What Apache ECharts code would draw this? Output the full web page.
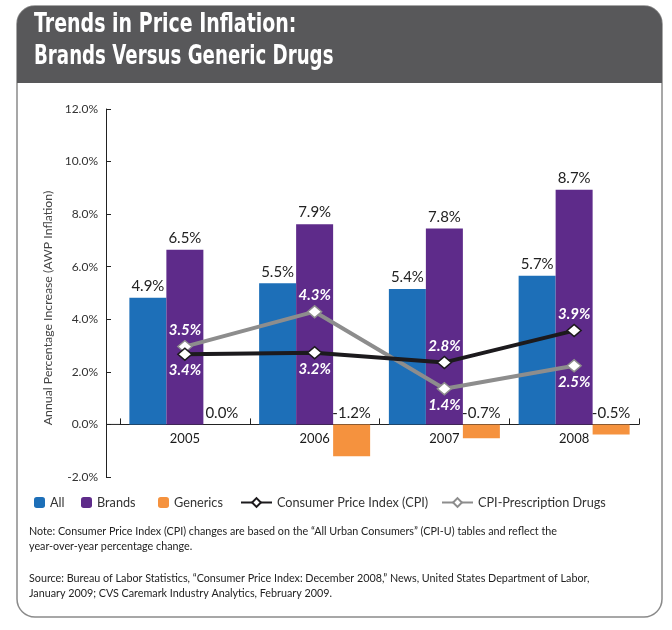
<!DOCTYPE html>
<html>
<head>
<meta charset="utf-8">
<script src="https://cdn.jsdelivr.net/npm/echarts@6/dist/echarts.min.js"></script>
<style>
  html, body { margin: 0; padding: 0; background: #fff; }
  #chart { width: 672px; height: 630px; }
</style>
</head>
<body>
<div id="chart"></div>
<script>
// categories
const years = ['2005', '2006', '2007', '2008'];

// bar heights as drawn, and the values printed above them
const allDrawn = [4.82, 5.37, 5.15, 5.66];
const allPrinted = [4.9, 5.5, 5.4, 5.7];
const brandsDrawn = [6.65, 7.62, 7.45, 8.93];
const brandsPrinted = [6.5, 7.9, 7.8, 8.7];
const genericsDrawn = [0, -1.21, -0.53, -0.38];
const genericsPrinted = [0.0, -1.2, -0.7, -0.5];

// line points as drawn, and the values printed next to them
const cpiDrawn = [2.67, 2.73, 2.36, 3.57];
const cpiPrinted = [3.4, 3.2, 2.8, 3.9];
const rxDrawn = [2.96, 4.29, 1.36, 2.23];
const rxPrinted = [3.5, 4.3, 1.4, 2.5];

// y axis
const yMin = -2;
const yMax = 12;
const yStep = 2;

const FONT = 'Lato';
const pct = v => v.toFixed(1) + '%';

const GRID_TOP = 109;
const GRID_H = 368;
// move the category axis (line, ticks, labels) up to the zero line
const xOffset = -(0 - yMin) * GRID_H / (yMax - yMin);

const chart = echarts.init(document.getElementById('chart'));

function barLabels(printed) {
  return {
    show: true,
    position: 'top',
    distance: 4,
    color: '#222',
    fontFamily: FONT,
    fontSize: 15,
    formatter: p => pct(printed[p.dataIndex])
  };
}

// higher line of the two gets its label above, lower one below
function lineData(drawn, other, printed) {
  return drawn.map((v, i) => ({
    value: v,
    label: {
      position: v >= other[i] ? 'top' : 'bottom',
      formatter: pct(printed[i])
    }
  }));
}

const lineLabel = {
  show: true,
  color: '#fff',
  fontFamily: FONT,
  fontSize: 15,
  fontStyle: 'italic',
  fontWeight: 'bold',
  distance: 2
};

function legendAt(name, left, w, h) {
  return {
    data: [name],
    left: left, top: 496,
    padding: 0,
    itemWidth: w, itemHeight: h,
    textStyle: { color: '#333', fontSize: 12.7, fontFamily: FONT }
  };
}

const frame = [
  {
    type: 'rect',
    shape: { x: 17, y: 6, width: 645, height: 611, r: 18 },
    style: { fill: '#fff', stroke: '#8a8a8a', lineWidth: 1.5 },
    z: -10
  },
  {
    type: 'rect',
    shape: { x: 17, y: 6, width: 645, height: 77, r: [18, 18, 0, 0] },
    style: { fill: '#58585a' },
    z: -9
  },
  {
    type: 'text',
    x: 34, y: 25, scaleX: 0.73,
    style: {
      text: 'Trends in Price Inflation:',
      fill: '#fff',
      font: 'bold 26px "DejaVu Sans"',
      verticalAlign: 'middle'
    }
  },
  {
    type: 'text',
    x: 34, y: 57, scaleX: 0.7,
    style: {
      text: 'Brands Versus Generic Drugs',
      fill: '#fff',
      font: 'bold 26px "DejaVu Sans"',
      verticalAlign: 'middle'
    }
  },
  {
    type: 'text',
    left: 29, top: 524,
    style: {
      text: 'Note: Consumer Price Index (CPI) changes are based on the \u201cAll Urban Consumers\u201d (CPI-U) tables and reflect the\nyear-over-year percentage change.',
      fill: '#222',
      font: '10.75px Lato',
      lineHeight: 15
    }
  },
  {
    type: 'text',
    left: 29, top: 571,
    style: {
      text: 'Source: Bureau of Labor Statistics, \u201cConsumer Price Index: December 2008,\u201d News, United States Department of Labor,\nJanuary 2009; CVS Caremark Industry Analytics, February 2009.',
      fill: '#222',
      font: '10.75px Lato',
      lineHeight: 15
    }
  }
];

const option = {
  backgroundColor: '#fff',
  animation: false,
  textStyle: { fontFamily: FONT },
  graphic: frame,
  legend: [
    legendAt('All', 34, 11, 11),
    legendAt('Brands', 81, 11, 11),
    legendAt('Generics', 158, 11, 11),
    legendAt('Consumer Price Index (CPI)', 240, 31, 11),
    legendAt('CPI-Prescription Drugs', 441, 31, 11)
  ],
  grid: { left: 120, top: GRID_TOP, width: 519, height: GRID_H },
  xAxis: {
    type: 'category',
    data: years,
    offset: xOffset,
    axisLine: { onZero: false, lineStyle: { color: '#222', width: 1 } },
    axisTick: { show: true, inside: true, length: 6, lineStyle: { color: '#222' } },
    axisLabel: { color: '#1a1a1a', fontSize: 13, margin: 8, fontFamily: FONT }
  },
  yAxis: {
    type: 'value',
    min: yMin, max: yMax, interval: yStep,
    offset: 14,
    name: 'Annual Percentage Increase (AWP Inflation)',
    nameLocation: 'middle',
    nameGap: 47,
    nameTextStyle: { color: '#444', fontSize: 12.3, fontFamily: FONT, padding: [0, 30, 0, 0] },
    axisLine: { show: true, lineStyle: { color: '#222', width: 1 } },
    axisTick: { show: true, inside: true, length: 5, lineStyle: { color: '#222' } },
    axisLabel: { color: '#333', fontSize: 12, margin: 8, formatter: v => pct(v), fontFamily: FONT },
    splitLine: { show: false }
  },
  series: [
    {
      name: 'All', type: 'bar', data: allDrawn,
      barWidth: 37, barGap: '0%',
      itemStyle: { color: '#1d6fb8' },
      label: barLabels(allPrinted)
    },
    {
      name: 'Brands', type: 'bar', data: brandsDrawn,
      barWidth: 37, barGap: '0%',
      itemStyle: { color: '#5e2b8a' },
      label: barLabels(brandsPrinted)
    },
    {
      name: 'Generics', type: 'bar', data: genericsDrawn,
      barWidth: 37, barGap: '0%',
      itemStyle: { color: '#f5923e' },
      label: barLabels(genericsPrinted)
    },
    {
      name: 'CPI-Prescription Drugs', type: 'line',
      data: lineData(rxDrawn, cpiDrawn, rxPrinted),
      symbol: 'diamond', symbolSize: [14, 12],
      lineStyle: { color: '#8d8d8d', width: 4 },
      itemStyle: { color: '#fff', borderColor: '#8d8d8d', borderWidth: 1.5 },
      label: lineLabel,
      z: 5
    },
    {
      name: 'Consumer Price Index (CPI)', type: 'line',
      data: lineData(cpiDrawn, rxDrawn, cpiPrinted),
      symbol: 'diamond', symbolSize: [14, 12],
      lineStyle: { color: '#1c1a1d', width: 4 },
      itemStyle: { color: '#fff', borderColor: '#1c1a1d', borderWidth: 1.5 },
      label: lineLabel,
      z: 6
    }
  ]
};

chart.setOption(option);

// extend the x axis line back to the y axis line
const zeroY = chart.convertToPixel({ yAxisIndex: 0 }, 0);
chart.setOption({
  graphic: frame.concat([{
    type: 'line',
    shape: { x1: 106, y1: zeroY, x2: 120, y2: zeroY },
    style: { stroke: '#222', lineWidth: 1 }
  }])
});
</script>
</body>
</html>
